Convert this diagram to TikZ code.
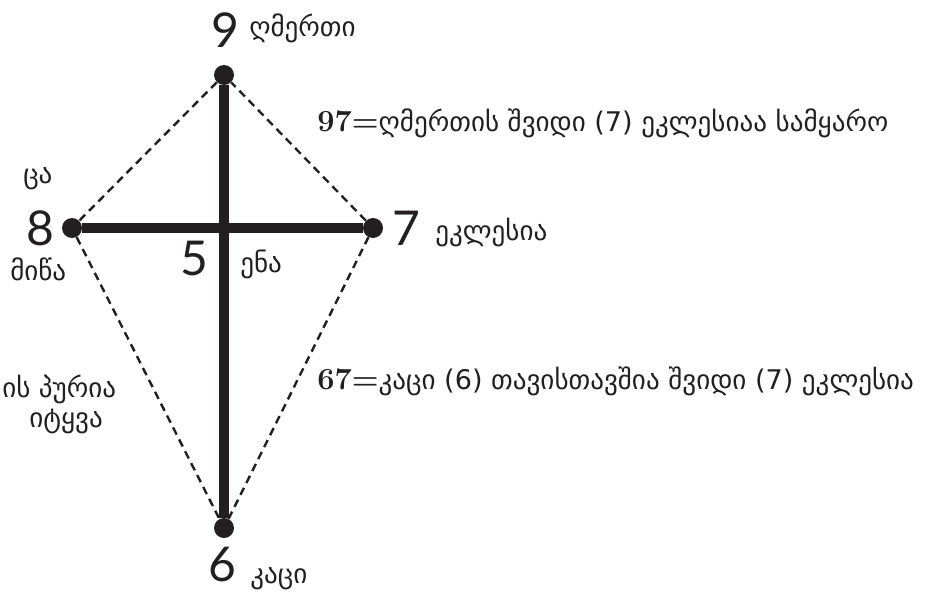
\documentclass[tikz,border=0pt]{standalone}
\usepackage{fontspec}
\newfontfamily\geofont{DejaVu Sans}
\newfontfamily\numfont{Lato}
\definecolor{ink}{HTML}{231F20}

\begin{document}
\begin{tikzpicture}[x=0.75pt,y=-0.75pt,
    dot/.style={circle,fill=ink,inner sep=0pt,minimum size=15pt},
    bar/.style={line width=7.5pt,ink},
    link/.style={ink,line width=1.8pt,dash pattern=on 6pt off 4pt},
    num/.style={font=\numfont\fontsize{36}{36}\selectfont,inner sep=0pt,text=ink},
    word/.style={font=\geofont\fontsize{20.3}{24}\selectfont,inner sep=0pt,anchor=base west,text=ink},
    sum/.style={font=\rmfamily\bfseries\fontsize{23}{23}\selectfont}]
			\useasboundingbox (0,0) rectangle (931,592);
			\node[dot] (god) at (224,75) {};
			\node[dot] (earth) at (72,228) {};
			\node[dot] (church) at (373,228) {};
			\node[dot] (man) at (224,528) {};
			\draw[link] (god) -- (earth) -- (man) -- (church) -- (god);
			\draw[bar] (god) -- (man);
			\draw[bar] (earth) -- (church);
			\node[num] (n9) at (225,30) {9};
			\node[num] (n8) at (40,228) {8};
			\node[num] (n7) at (406,228) {7};
			\node[num] (n5) at (194,258) {5};
			\node[num] (n6) at (222,564) {6};
			\node[word] (godname) at (249,37) {ღმერთი};
			\node[word] (sky) at (23,183) {ცა};
			\node[word] (ground) at (10,280) {მიწა};
			\node[word] (churchname) at (435,240) {ეკლესია};
			\node[word] (tongue) at (240,272) {ენა};
			\node[word] (manname) at (250,583) {კაცი};
			\node[word] (godsum) at (317,131) {{\rmfamily\bfseries\fontsize{23}{23}\selectfont 97=}ღმერთის შვიდი (7) ეკლესიაა სამყარო};
			\node[word] (mansum) at (317,389) {{\rmfamily\bfseries\fontsize{23}{23}\selectfont 67=}კაცი (6) თავისთავშია შვიდი (7) ეკლესია};
			\node[word] (bread) at (2,397) {ის პურია};
			\node[word,anchor=base east] (saying) at (103,427) {იტყვა};
		\end{tikzpicture}
\end{document}
